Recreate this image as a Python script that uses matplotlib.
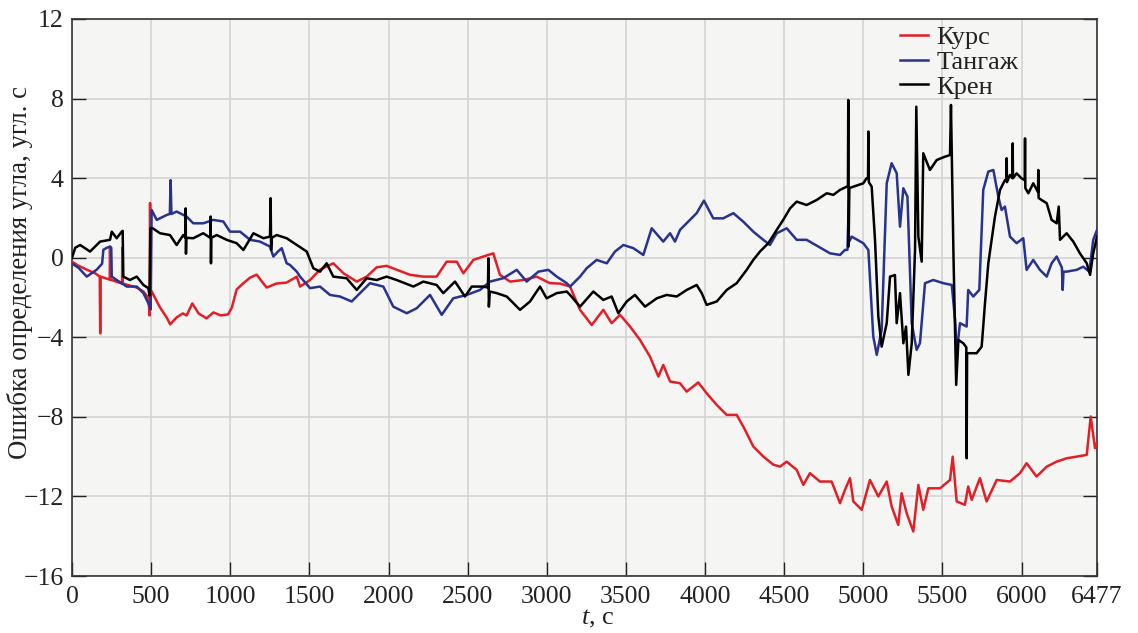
import matplotlib
matplotlib.use("Agg")
import matplotlib.pyplot as plt

plt.rcParams["font.family"] = ["Liberation Serif", "DejaVu Serif"]
plt.rcParams["mathtext.fontset"] = "custom"
plt.rcParams["mathtext.it"] = "Liberation Serif:italic"
plt.rcParams["mathtext.rm"] = "Liberation Serif"

# Heading error (Курс)
kurs_t = [0, 40, 93, 150, 175, 178, 181, 238, 240, 243, 280, 316, 318, 321, 366, 409, 451, 482,
          490, 493, 497, 510, 556, 598, 620, 661, 700, 724, 760, 800, 850, 893, 940, 986, 1010,
          1040, 1080, 1125, 1167, 1200, 1230, 1290, 1356, 1420, 1441, 1504, 1567, 1651, 1715,
          1799, 1862, 1925, 1988, 2051, 2136, 2220, 2304, 2367, 2431, 2473, 2536, 2599, 2662,
          2704, 2768, 2852, 2936, 3020, 3084, 3147, 3210, 3284, 3357, 3410, 3463, 3526, 3589,
          3652, 3705, 3736, 3779, 3842, 3884, 3957, 4010, 4074, 4137, 4200, 4242, 4305, 4368,
          4431, 4474, 4516, 4579, 4621, 4663, 4726, 4800, 4853, 4884, 4916, 4937, 4990, 5042,
          5095, 5148, 5179, 5221, 5242, 5274, 5316, 5348, 5379, 5411, 5485, 5548, 5565, 5590,
          5642, 5663, 5685, 5737, 5779, 5843, 5927, 5990, 6032, 6095, 6159, 6222, 6285, 6348,
          6412, 6437, 6464, 6477]
kurs_v = [-0.2, -0.4, -0.6, -0.8, -0.95, -3.8, -0.95, -1.1, 0.55, -1.1, -1.2, -1.3, 0.5, -1.3,
          -1.4, -1.5, -1.7, -2.0, -2.9, 2.75, -1.6, -1.8, -2.5, -3.0, -3.35, -3.0, -2.8, -2.9,
          -2.3, -2.8, -3.05, -2.75, -2.9, -2.85, -2.5, -1.6, -1.3, -1.0, -0.85, -1.2, -1.5,
          -1.3, -1.25, -0.95, -1.45, -1.12, -0.6, -0.28, -0.78, -1.2, -0.95, -0.48, -0.41,
          -0.6, -0.86, -0.95, -0.95, -0.2, -0.2, -0.78, -0.11, 0.06, 0.22, -0.86, -1.2, -1.12,
          -0.95, -1.28, -1.3, -1.45, -2.62, -3.38, -2.62, -3.29, -2.87, -3.46, -4.13, -4.97,
          -5.97, -5.39, -6.22, -6.31, -6.73, -6.27, -6.81, -7.4, -7.9, -7.9, -8.49, -9.49,
          -9.99, -10.4, -10.5, -10.25, -10.66, -11.42, -10.83, -11.25, -11.25, -12.34, -11.67,
          -11.08, -12.25, -12.67, -11.17, -12.0, -11.25, -12.5, -13.43, -11.84, -12.84, -13.76,
          -11.42, -12.67, -11.59, -11.59, -11.17, -10.0, -12.25, -12.42, -11.5, -12.17, -11.08,
          -12.25, -11.17, -11.25, -10.83, -10.33, -11.0, -10.5, -10.25, -10.08, -10.0, -9.91,
          -7.98, -9.57, -9.3]

# Pitch error (Тангаж)
tang_t = [0, 40, 93, 156, 190, 198, 220, 240, 248, 251, 282, 346, 409, 451, 493, 497, 503, 535,
          598, 618, 623, 628, 661, 724, 766, 829, 893, 956, 998, 1062, 1125, 1188, 1251, 1272,
          1300, 1325, 1356, 1377, 1420, 1441, 1504, 1567, 1630, 1693, 1767, 1820, 1883, 1967,
          2030, 2115, 2178, 2262, 2336, 2409, 2494, 2578, 2641, 2725, 2810, 2873, 2947, 3010,
          3063, 3126, 3147, 3210, 3252, 3315, 3379, 3431, 3484, 3547, 3610, 3663, 3736, 3779,
          3810, 3842, 3905, 3947, 3993, 4052, 4115, 4179, 4242, 4305, 4368, 4410, 4453, 4516,
          4579, 4642, 4716, 4790, 4853, 4884, 4900, 4905, 4910, 4927, 5000, 5032, 5063, 5085,
          5116, 5148, 5179, 5211, 5232, 5253, 5279, 5306, 5337, 5358, 5390, 5442, 5506, 5559,
          5580, 5590, 5611, 5653, 5663, 5695, 5733, 5758, 5790, 5822, 5853, 5874, 5895, 5927,
          5969, 6011, 6032, 6074, 6116, 6159, 6190, 6222, 6255, 6260, 6265, 6285, 6348, 6390,
          6428, 6453, 6477]
tang_v = [-0.3, -0.5, -0.95, -0.6, -0.3, 0.4, 0.5, 0.56, 0.5, -0.95, -1.12, -1.45, -1.45, -1.78,
          -2.46, -2.6, 2.4, 1.9, 2.15, 2.2, 3.9, 2.2, 2.32, 2.07, 1.73, 1.73, 1.9, 1.82, 1.31,
          1.31, 0.9, 0.81, 0.56, 0.06, 0.3, 0.48, -0.28, -0.36, -0.7, -0.95, -1.53, -1.45,
          -1.87, -1.95, -2.2, -1.78, -1.28, -1.45, -2.46, -2.79, -2.54, -1.87, -2.87, -2.04,
          -1.87, -1.62, -1.2, -1.03, -0.61, -1.2, -0.7, -0.61, -0.95, -1.28, -1.45, -0.95,
          -0.53, -0.11, -0.28, 0.31, 0.64, 0.48, 0.14, 1.48, 0.81, 1.23, 0.81, 1.4, 1.9, 2.24,
          2.87, 1.98, 1.98, 2.24, 1.81, 1.31, 0.9, 0.64, 1.23, 1.48, 0.9, 0.9, 0.56, 0.22, 0.14,
          0.39, 0.4, 1.9, 0.8, 1.06, 0.73, 0.39, -3.96, -4.88, -3.63, 3.74, 4.75, 4.25, 1.56,
          3.49, 3.07, -3.29, -4.63, -4.3, -1.28, -1.12, -1.28, -1.37, -3.13, -4.8, -3.29, -3.46,
          -1.62, -1.95, -1.62, 3.41, 4.33, 4.41, 3.07, 2.4, 2.57, 1.06, 0.73, 0.98, -0.61,
          -0.11, -0.61, -0.95, -0.28, 0.06, -0.5, -1.62, -0.7, -0.7, -0.61, -0.45, -0.7, 0.9,
          1.4]

# Roll error (Крен)
kren_t = [0, 20, 51, 114, 177, 240, 251, 282, 314, 320, 324, 366, 409, 451, 482, 490, 495, 510,
          556, 619, 661, 703, 716, 718, 720, 722, 766, 829, 874, 876, 878, 880, 914, 977, 1040,
          1083, 1146, 1209, 1251, 1255, 1258, 1262, 1293, 1356, 1420, 1483, 1525, 1567, 1609,
          1651, 1735, 1799, 1862, 1925, 1988, 2051, 2157, 2220, 2304, 2346, 2420, 2483, 2526,
          2599, 2628, 2631, 2634, 2640, 2683, 2747, 2831, 2894, 2957, 2999, 3063, 3126, 3147,
          3210, 3294, 3357, 3410, 3452, 3505, 3557, 3621, 3695, 3758, 3821, 3884, 3947, 3979,
          4010, 4074, 4137, 4200, 4263, 4305, 4347, 4400, 4453, 4494, 4537, 4579, 4642, 4705,
          4769, 4811, 4853, 4895, 4903, 4905, 4907, 4912, 4937, 5000, 5021, 5030, 5032, 5035,
          5053, 5074, 5095, 5116, 5148, 5169, 5200, 5211, 5232, 5253, 5270, 5285, 5306, 5327,
          5335, 5348, 5369, 5379, 5421, 5464, 5516, 5548, 5554, 5570, 5587, 5601, 5632, 5651,
          5653, 5656, 5670, 5716, 5748, 5769, 5790, 5832, 5864, 5895, 5904, 5906, 5908, 5927,
          5942, 5944, 5946, 5969, 6000, 6020, 6022, 6024, 6043, 6074, 6104, 6106, 6108, 6127,
          6159, 6190, 6222, 6235, 6243, 6285, 6327, 6369, 6412, 6433, 6453, 6477]
kren_v = [0.0, 0.5, 0.64, 0.31, 0.81, 0.9, 1.31, 0.98, 1.31, 1.35, -0.95, -1.12, -0.95, -1.37,
          -1.53, -1.9, 1.48, 1.48, 1.23, 1.14, 0.64, 1.14, 1.0, 2.48, 0.2, 1.0, 0.98, 1.23, 1.0,
          2.07, -0.28, 1.0, 1.14, 0.9, 0.73, 0.39, 1.23, 0.98, 1.06, 2.99, 0.39, 1.0, 1.14,
          0.98, 0.64, 0.31, -0.53, -0.7, -0.28, -0.95, -1.03, -1.62, -1.03, -1.12, -0.95,
          -1.12, -1.45, -1.2, -1.37, -1.78, -1.2, -1.95, -1.45, -1.45, -1.5, -0.03, -2.46,
          -1.7, -1.78, -1.95, -2.62, -2.2, -1.45, -2.04, -1.78, -1.7, -1.87, -2.46, -1.7,
          -2.12, -1.95, -2.79, -2.2, -1.87, -2.46, -2.04, -1.87, -1.95, -1.62, -1.37, -1.78,
          -2.37, -2.2, -1.62, -1.28, -0.61, -0.11, 0.31, 0.73, 1.4, 1.9, 2.48, 2.82, 2.65, 2.9,
          3.24, 3.16, 3.41, 3.57, 3.6, 7.93, 0.56, 3.5, 3.57, 3.74, 4.0, 4.0, 6.34, 3.8, 3.57,
          0.9, -2.96, -4.47, -3.29, -0.95, -0.87, -3.29, -1.78, -4.3, -3.46, -5.89, -4.3, 0.39,
          7.59, 1.06, -0.2, 5.25, 4.41, 4.91, 5.08, 5.16, 7.68, 0.06, -6.39, -4.13, -4.3, -4.5,
          -10.08, -4.8, -4.8, -4.8, -4.47, -2.29, -0.28, 2.07, 3.41, 3.9, 3.9, 5.0, 3.8, 4.16,
          4.0, 5.75, 4.0, 4.24, 3.99, 3.9, 6.0, 3.5, 3.24, 3.74, 3.3, 4.41, 3.0, 2.9, 2.74,
          1.9, 1.73, 2.57, 0.9, 1.23, 0.81, 0.22, -0.28, -0.86, 0.22, 1.06]

x_ticks = [0, 500, 1000, 1500, 2000, 2500, 3000, 3500, 4000, 4500, 5000, 5500, 6000, 6477]
y_ticks = [-16, -12, -8, -4, 0, 4, 8, 12]

W, H = 1138, 633
fig = plt.figure(figsize=(W / 100, H / 100), dpi=100)
ax = fig.add_axes([0.0633, 0.090, 0.9007, 0.880])
ax.set_facecolor("#f5f5f3")

ax.plot(kurs_t, kurs_v, color="#e41e26", lw=1.8, label="Курс", zorder=3)
ax.plot(tang_t, tang_v, color="#28338f", lw=1.8, label="Тангаж", zorder=4)
ax.plot(kren_t, kren_v, color="#000000", lw=1.8, label="Крен", zorder=5)

ax.set_xlim(0, 6477)
ax.set_ylim(-16, 12)
ax.set_xticks(x_ticks)
ax.set_yticks(y_ticks)
ax.set_yticklabels([f"{v:d}".replace("-", "\u2212") for v in y_ticks])
ax.grid(True, color="#d4d4d6", lw=1.2, zorder=0)
ax.set_axisbelow(True)

ax.tick_params(axis="both", direction="in", length=10, width=1.0, labelsize=18.5,
               color="#222222", labelcolor="#222222")
ax.tick_params(axis="y", right=True)
ax.tick_params(axis="x", pad=7)
ax.tick_params(axis="y", pad=6)
for sp in ax.spines.values():
    sp.set_color("#333333")
    sp.set_linewidth(1.2)

# axis titles
fig.text(598 / W, 1 - 619 / H, "$t$, с", fontsize=19, color="#222222",
         ha="center", va="center")
fig.text(20 / W, 1 - 272 / H, "Ошибка определения угла, угл. с", fontsize=19.3,
         color="#222222", rotation=90, ha="center", va="center")

leg = ax.legend(loc="upper left", bbox_to_anchor=(0.808, 0.988), frameon=False,
                fontsize=19, handlelength=1.05, handletextpad=0.33, labelspacing=0.05,
                borderpad=0.0, borderaxespad=0.0)
for t in leg.get_texts():
    t.set_color("#222222")

fig.savefig("out.png", dpi=100)
